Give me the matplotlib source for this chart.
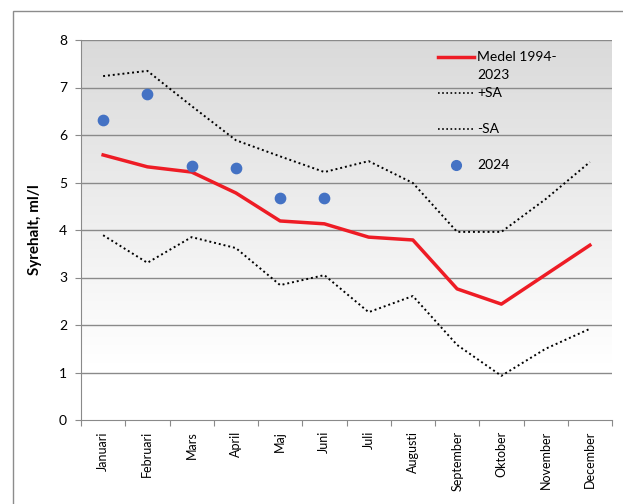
import numpy as np
import matplotlib.pyplot as plt
from matplotlib.patches import Rectangle
from matplotlib.lines import Line2D

plt.rcParams['font.family'] = ['Lato', 'DejaVu Sans']

# data
months = ['Januari', 'Februari', 'Mars', 'April', 'Maj', 'Juni', 'Juli',
          'Augusti', 'September', 'Oktober', 'November', 'December']
medel = [5.58, 5.33, 5.22, 4.78, 4.19, 4.13, 3.85, 3.79, 2.76, 2.44, 3.06, 3.68]
plus_sa = [7.24, 7.35, 6.61, 5.89, 5.55, 5.22, 5.45, 4.99, 3.96, 3.96, 4.65, 5.43]
minus_sa = [3.89, 3.31, 3.85, 3.62, 2.84, 3.05, 2.27, 2.61, 1.58, 0.93, 1.50, 1.92]
y2024 = [6.31, 6.86, 5.35, 5.31, 4.67, 4.67]

W, H = 623, 504
fig = plt.figure(figsize=(W/100, H/100), dpi=100)
ax = fig.add_axes([81/W, 1-420/H, (612-81)/W, (420-40)/H])

# gradient background (grey at top -> white at bottom)
t = np.clip(np.linspace(0, 1, 256) / 0.85, 0, 1)[:, None]
top = np.array([218, 218, 218]) / 255
bot = np.array([255, 255, 255]) / 255
img = (top[None, :] * (1 - t) + bot[None, :] * t).reshape(256, 1, 3)
ax.imshow(img, extent=[-0.5, 11.5, 0, 8], aspect='auto', origin='upper', zorder=0)

x = np.arange(len(months))
for yv in range(1, 9):
    ax.axhline(yv, color='#8a8a8a', lw=1, zorder=1)

dots = (0, (1, 1.5))
ax.plot(x, plus_sa, color='black', lw=1.4, linestyle=dots, zorder=3)
ax.plot(x, minus_sa, color='black', lw=1.4, linestyle=dots, zorder=3)
ax.plot(x, medel, color='#ee1c25', lw=2.5, zorder=4)
ax.scatter(x[:len(y2024)], y2024, s=55, color='#4472c4', zorder=5)

ax.set_xlim(-0.5, 11.5)
ax.set_ylim(0, 8)
ax.set_yticks(range(0, 9))
ax.set_xticks(np.arange(-0.5, 12, 1))
ax.set_xticklabels([])
ax.set_xticks(x, minor=True)
ax.set_xticklabels(months, minor=True, rotation=90, fontsize=9)
ax.tick_params(axis='x', which='minor', length=0, pad=8)
ax.tick_params(axis='x', which='major', length=4, color='#8a8a8a')
ax.tick_params(axis='y', length=4, color='#8a8a8a', labelsize=10, pad=6)
for s in ['top', 'right']:
    ax.spines[s].set_visible(False)
for s in ['left', 'bottom']:
    ax.spines[s].set_color('#8a8a8a')
ax.set_ylabel('Syrehalt, ml/l', fontsize=11, fontweight='bold', labelpad=12)

# legend drawn by hand to mimic the Excel layout
def fx(px):
    return px / W
def fy(py):
    return 1 - py / H
tf = fig.transFigure
fig.add_artist(Line2D([fx(438), fx(474)], [fy(57), fy(57)], color='#ee1c25', lw=2.5, transform=tf))
fig.add_artist(Line2D([fx(438), fx(474)], [fy(93), fy(93)], color='black', lw=1.2, linestyle=dots, transform=tf))
fig.add_artist(Line2D([fx(438), fx(474)], [fy(129), fy(129)], color='black', lw=1.2, linestyle=dots, transform=tf))
fig.add_artist(Line2D([fx(456)], [fy(165)], marker='o', color='#4472c4', markersize=7, lw=0, transform=tf))
for txt, py in [('Medel 1994-', 57), ('2023', 75), ('+SA', 93), ('-SA', 129), ('2024', 165)]:
    fig.text(fx(477), fy(py), txt, fontsize=10, va='center', ha='left')

fig.patches.append(Rectangle((13/W, -0.1), 1.2, 1 - 11/H + 0.1,
                             transform=tf, fill=False,
                             edgecolor='#8c8c8c', lw=1))

fig.savefig('out.png', dpi=100)
